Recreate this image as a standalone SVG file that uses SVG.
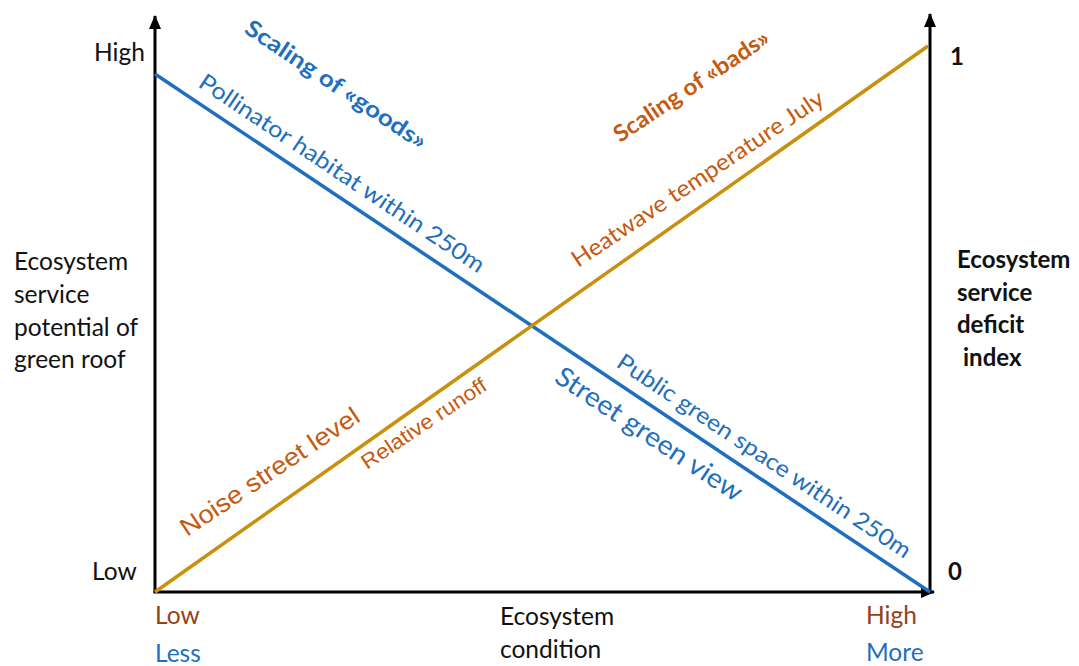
<svg xmlns="http://www.w3.org/2000/svg" width="1079" height="666" viewBox="0 0 1079 666">
  <style>
    .cal { font-family: Lato, "Open Sans", "DejaVu Sans", sans-serif; }
    .ari { font-family: "Liberation Sans", Arial, sans-serif; }
    .blk { fill: #111111; }
    .bold { font-weight: 700; }
    .blue { fill: #1f6fbd; }
    .orng { fill: #c55a11; }
    .brwn { fill: #944216; }
    .axis { stroke: #000000; stroke-width: 3; fill: none; }
  </style>
  <defs>
    <marker id="arrow" markerUnits="userSpaceOnUse" markerWidth="14" markerHeight="12" refX="13" refY="6" orient="auto">
      <path d="M0,0 L14,6 L0,12 z" fill="#000000"/>
    </marker>
  </defs>
  <rect x="0" y="0" width="1079" height="666" fill="#ffffff"/>

  <g id="axes">
    <line class="axis" x1="155" y1="593" x2="155" y2="16" marker-end="url(#arrow)"/>
    <line class="axis" x1="930" y1="593" x2="930" y2="14" marker-end="url(#arrow)"/>
    <line class="axis" x1="153.5" y1="592" x2="934" y2="592" marker-end="url(#arrow)"/>
  </g>

  <g id="connectors">
    <line id="goods-line" x1="155" y1="74" x2="930" y2="592" stroke="#1f6fbd" stroke-width="3.5"/>
    <line id="bads-line" x1="155" y1="592" x2="928" y2="46" stroke="#c8900c" stroke-width="3.5"/>
  </g>

  <g id="left-axis-labels" class="cal blk" font-size="24.5">
    <text x="94" y="61">High</text>
    <text x="92" y="580">Low</text>
    <text x="14" y="270">Ecosystem</text>
    <text x="14" y="303">service</text>
    <text x="14" y="336">potential of</text>
    <text x="14" y="368">green roof</text>
  </g>

  <g id="right-axis-labels" class="cal blk bold" font-size="24">
    <text x="950" y="65">1</text>
    <text x="948" y="580">0</text>
    <text x="957" y="268">Ecosystem</text>
    <text x="957" y="301">service</text>
    <text x="957" y="333">deficit</text>
    <text x="963" y="366">index</text>
  </g>

  <g id="bottom-axis-labels" class="cal" font-size="24.5">
    <text x="155" y="624" class="brwn">Low</text>
    <text x="155" y="662" class="blue">Less</text>
    <text x="500" y="625" class="blk">Ecosystem</text>
    <text x="500" y="658" class="blk">condition</text>
    <text x="866" y="624" class="brwn">High</text>
    <text x="866" y="661" class="blue">More</text>
  </g>

  <g id="scaling-goods">
    <text class="cal bold blue" font-size="23" transform="translate(243,32) rotate(33.7)" textLength="213" lengthAdjust="spacingAndGlyphs">Scaling of «goods»</text>
  </g>
  <g id="pollinator">
    <text class="cal blue" font-size="23" transform="translate(197,86) rotate(33.7)" textLength="338" lengthAdjust="spacingAndGlyphs">Pollinator habitat within 250m</text>
  </g>
  <g id="public-green">
    <text class="cal blue" font-size="23" transform="translate(615,366) rotate(33.7)" textLength="348" lengthAdjust="spacingAndGlyphs">Public green space within 250m</text>
  </g>
  <g id="street-green">
    <text class="cal blue" font-size="27" transform="translate(553,381) rotate(33.7)" textLength="219" lengthAdjust="spacingAndGlyphs">Street green view</text>
  </g>

  <g id="scaling-bads">
    <text class="cal bold orng" font-size="23" transform="translate(620,143) rotate(-33.7)" textLength="182" lengthAdjust="spacingAndGlyphs">Scaling of «bads»</text>
  </g>
  <g id="heatwave">
    <text class="cal orng" font-size="23" transform="translate(578,268) rotate(-33.7)" textLength="298" lengthAdjust="spacingAndGlyphs">Heatwave temperature July</text>
  </g>
  <g id="runoff">
    <text class="ari orng" font-size="21" transform="translate(367,470) rotate(-33.7)" textLength="146" lengthAdjust="spacingAndGlyphs">Relative runoff</text>
  </g>
  <g id="noise">
    <text class="ari orng" font-size="25" transform="translate(187,537) rotate(-33.7)" textLength="210" lengthAdjust="spacingAndGlyphs">Noise street level</text>
  </g>
</svg>
